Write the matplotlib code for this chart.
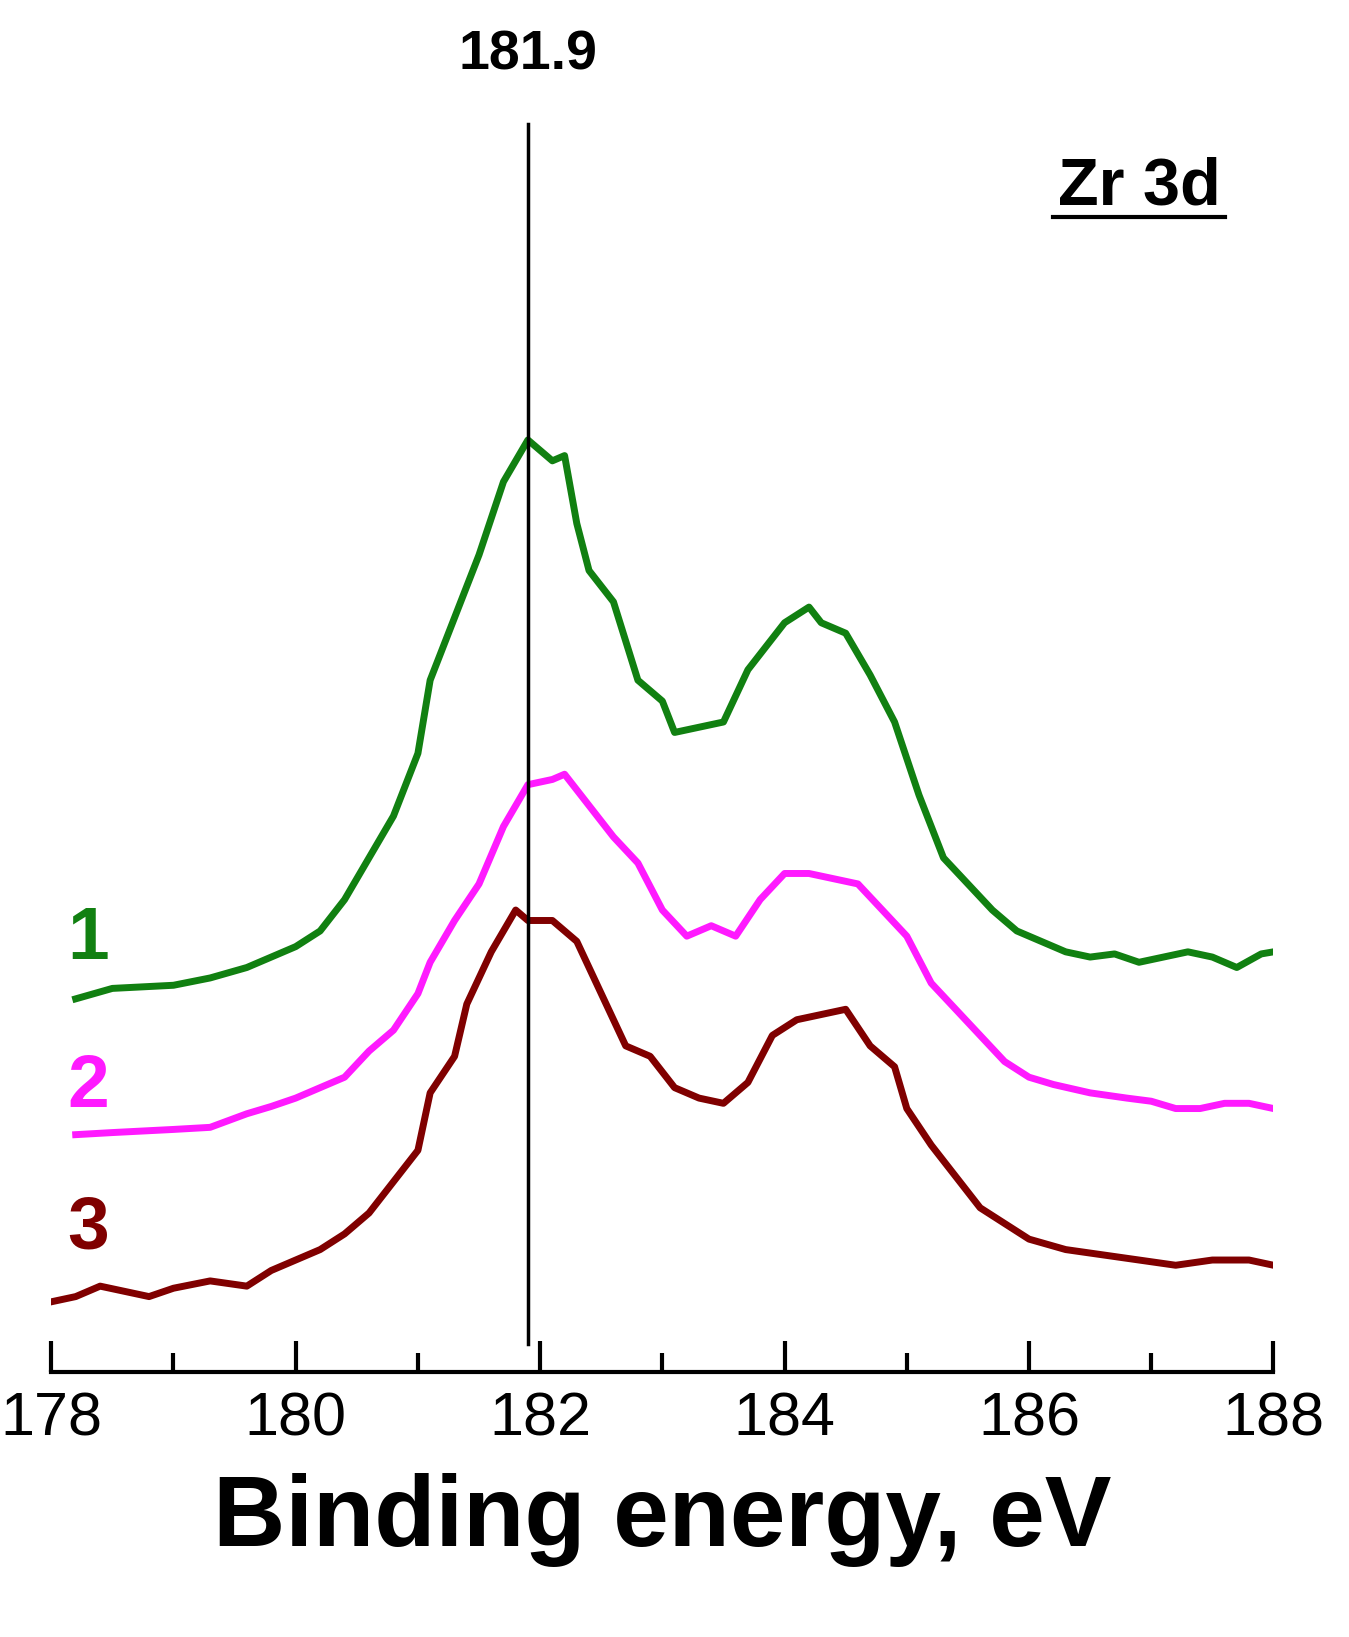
import numpy as np
import matplotlib.pyplot as plt
from matplotlib.ticker import MultipleLocator

plt.rcParams['font.family'] = ['Liberation Sans', 'DejaVu Sans']

# values, y in arbitrary (screen-like) units, larger = lower
e1 = [178.2, 178.5, 179, 179.3, 179.6, 179.8, 180, 180.2, 180.4, 180.6, 180.8, 181, 181.1, 181.3, 181.5,
      181.7, 181.9, 182.1, 182.2, 182.3, 182.4, 182.6, 182.8, 183, 183.1, 183.3, 183.5, 183.7, 183.9, 184,
      184.2, 184.3, 184.5, 184.7, 184.9, 185.1, 185.3, 185.5, 185.7, 185.9, 186.1, 186.3, 186.5, 186.7,
      186.9, 187.1, 187.3, 187.5, 187.7, 187.9, 188]
y1 = [955, 945, 942, 935, 925, 915, 905, 890, 860, 820, 780, 720, 650, 590, 530,
      460, 420, 440, 435, 500, 545, 575, 650, 670, 700, 695, 690, 640, 610, 595,
      580, 595, 605, 645, 690, 760, 820, 845, 870, 890, 900, 910, 915, 912,
      920, 915, 910, 915, 925, 912, 910]

e2 = [178.2, 178.5, 179, 179.3, 179.6, 179.8, 180, 180.2, 180.4, 180.6, 180.8, 181, 181.1, 181.3, 181.5,
      181.7, 181.9, 182.1, 182.2, 182.4, 182.6, 182.8, 183, 183.2, 183.4, 183.6, 183.8, 184, 184.2, 184.4,
      184.6, 184.8, 185, 185.2, 185.4, 185.6, 185.8, 186, 186.2, 186.5, 186.8, 187, 187.2, 187.4, 187.6,
      187.8, 188]
y2 = [1085, 1083, 1080, 1078, 1065, 1058, 1050, 1040, 1030, 1005, 985, 950, 920, 880, 845,
      790, 750, 745, 740, 770, 800, 825, 870, 895, 885, 895, 860, 835, 835, 840,
      845, 870, 895, 940, 965, 990, 1015, 1030, 1037, 1045, 1050, 1053, 1060, 1060, 1055,
      1055, 1060]

e3 = [178, 178.2, 178.4, 178.6, 178.8, 179, 179.3, 179.6, 179.8, 180, 180.2, 180.4, 180.6, 180.8, 181,
      181.1, 181.3, 181.4, 181.6, 181.8, 181.9, 182.1, 182.3, 182.5, 182.7, 182.9, 183.1, 183.3, 183.5,
      183.7, 183.9, 184.1, 184.3, 184.5, 184.7, 184.9, 185, 185.2, 185.4, 185.6, 185.8, 186, 186.3, 186.6,
      186.9, 187.2, 187.5, 187.8, 188]
y3 = [1245, 1240, 1230, 1235, 1240, 1232, 1225, 1230, 1215, 1205, 1195, 1180, 1160, 1130, 1100,
      1045, 1010, 960, 910, 870, 880, 880, 900, 950, 1000, 1010, 1040, 1050, 1055,
      1035, 990, 975, 970, 965, 1000, 1020, 1060, 1095, 1125, 1155, 1170, 1185, 1195, 1200,
      1205, 1210, 1205, 1205, 1210]

fig = plt.figure(figsize=(13.49, 16.37), dpi=100)
ax = fig.add_axes([0.038, 0.162, 0.906, 0.799])

ax.plot(e1, y1, color='#118011', lw=5)
ax.plot(e2, y2, color='#ff1aff', lw=5)
ax.plot(e3, y3, color='#800000', lw=5)
ax.plot([181.9, 181.9], [1285, 118], color='black', lw=2.5)

ax.set_xlim(178, 188)
ax.set_ylim(1312, 60)
for s in ['top', 'left', 'right']:
    ax.spines[s].set_visible(False)
ax.spines['bottom'].set_linewidth(3)
ax.set_yticks([])
ax.xaxis.set_major_locator(MultipleLocator(2))
ax.xaxis.set_minor_locator(MultipleLocator(1))
ax.tick_params(axis='x', which='major', direction='in', length=22, width=3, labelsize=44, pad=14)
ax.tick_params(axis='x', which='minor', direction='in', length=14, width=3)
ax.set_xlabel('Binding energy, eV', fontsize=72, fontweight='bold', labelpad=18)

ax.text(181.9, 52, '181.9', ha='center', va='center', fontsize=40, fontweight='bold')
ax.text(186.9, 178, 'Zr 3d', ha='center', va='center', fontsize=48, fontweight='bold')
ax.plot([186.2, 187.6], [207, 207], color='black', lw=3)
ax.text(178.3, 898, '1', color='#118011', fontsize=54, fontweight='bold', ha='center', va='center')
ax.text(178.3, 1040, '2', color='#ff1aff', fontsize=54, fontweight='bold', ha='center', va='center')
ax.text(178.3, 1175, '3', color='#800000', fontsize=54, fontweight='bold', ha='center', va='center')

fig.savefig('out.png', dpi=100)
